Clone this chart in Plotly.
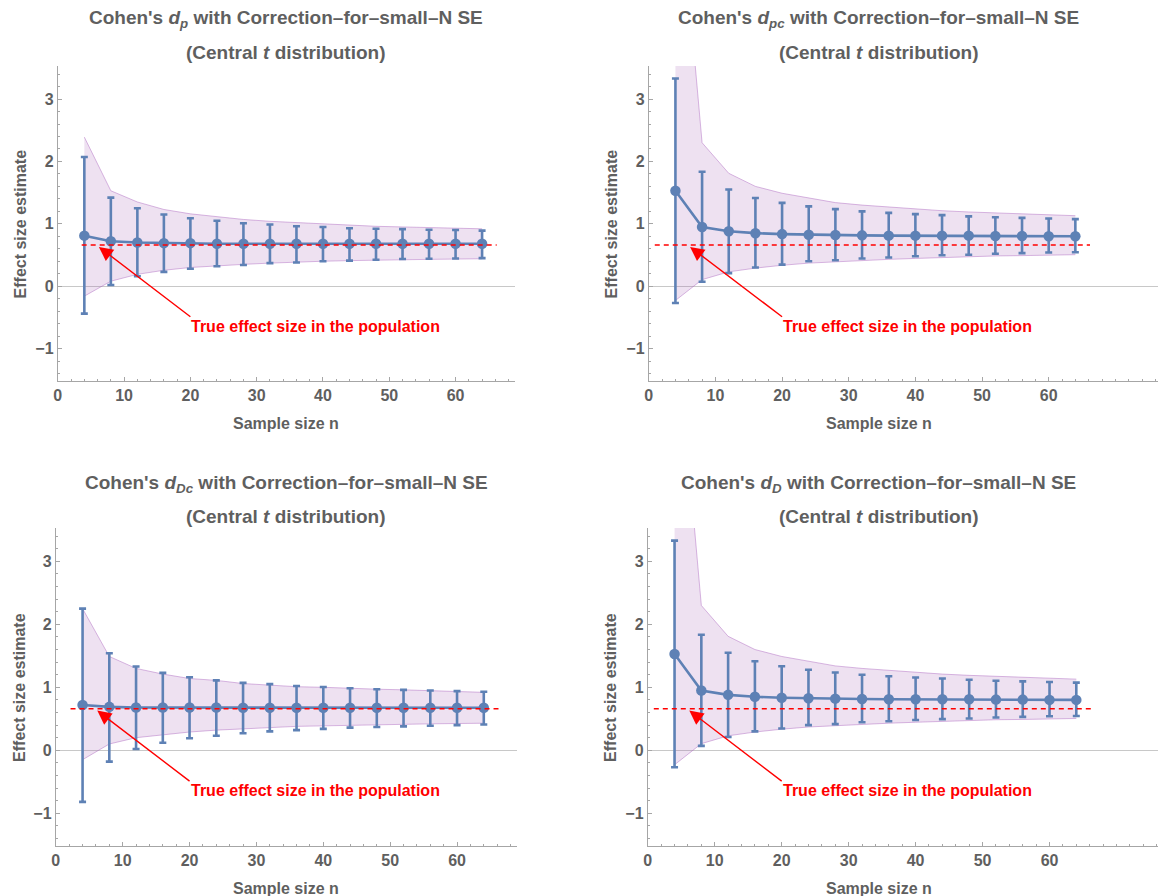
import plotly.graph_objects as go

# ---------------- data ----------------
sample_n = [4, 8, 12, 16, 20, 24, 28, 32, 36, 40, 44, 48, 52, 56, 60, 64]
true_effect = 0.66

# Cohen's d_p
dp_mean = [0.81, 0.72, 0.70, 0.69, 0.69, 0.68, 0.68, 0.68, 0.68, 0.68, 0.68, 0.68, 0.68, 0.68, 0.68, 0.68]
dp_hi = [2.07, 1.42, 1.25, 1.15, 1.09, 1.05, 1.01, 0.99, 0.96, 0.95, 0.93, 0.92, 0.915, 0.905, 0.90, 0.89]
dp_lo = [-0.44, 0.02, 0.16, 0.23, 0.28, 0.32, 0.34, 0.37, 0.38, 0.40, 0.41, 0.425, 0.435, 0.44, 0.445, 0.45]
dp_band_hi = [2.39, 1.53, 1.35, 1.23, 1.16, 1.11, 1.07, 1.04, 1.02, 1.00, 0.97, 0.96, 0.95, 0.94, 0.93, 0.92]
dp_band_lo = [-0.16, 0.08, 0.19, 0.255, 0.30, 0.33, 0.35, 0.37, 0.39, 0.40, 0.41, 0.42, 0.425, 0.43, 0.435, 0.44]

# Cohen's d_pc
dpc_mean = [1.53, 0.95, 0.88, 0.85, 0.835, 0.825, 0.82, 0.815, 0.81, 0.81, 0.81, 0.81, 0.805, 0.805, 0.80, 0.80]
dpc_hi = [3.33, 1.835, 1.55, 1.415, 1.335, 1.28, 1.235, 1.20, 1.175, 1.155, 1.14, 1.12, 1.105, 1.095, 1.085, 1.075]
dpc_lo = [-0.27, 0.07, 0.21, 0.30, 0.345, 0.40, 0.415, 0.445, 0.46, 0.48, 0.495, 0.505, 0.52, 0.53, 0.54, 0.545]
dpc_band_hi = [7.1, 2.30, 1.81, 1.60, 1.49, 1.415, 1.34, 1.30, 1.27, 1.235, 1.21, 1.19, 1.175, 1.16, 1.145, 1.13]
dpc_band_lo = [-0.23, 0.105, 0.23, 0.29, 0.335, 0.37, 0.39, 0.415, 0.43, 0.445, 0.46, 0.47, 0.485, 0.49, 0.50, 0.505]

# Cohen's d_Dc
dDc_mean = [0.72, 0.69, 0.68, 0.68, 0.68, 0.68, 0.675, 0.675, 0.675, 0.675, 0.675, 0.675, 0.675, 0.675, 0.675, 0.675]
dDc_hi = [2.25, 1.54, 1.33, 1.23, 1.16, 1.11, 1.07, 1.05, 1.02, 1.005, 0.985, 0.97, 0.96, 0.95, 0.94, 0.93]
dDc_lo = [-0.82, -0.18, 0.02, 0.12, 0.19, 0.23, 0.27, 0.30, 0.32, 0.34, 0.36, 0.37, 0.38, 0.39, 0.40, 0.41]
dDc_band_hi = [2.25, 1.49, 1.30, 1.21, 1.14, 1.11, 1.06, 1.03, 1.01, 1.00, 0.98, 0.97, 0.96, 0.95, 0.94, 0.92]
dDc_band_lo = [-0.15, 0.10, 0.20, 0.25, 0.29, 0.32, 0.345, 0.36, 0.38, 0.39, 0.40, 0.41, 0.415, 0.42, 0.425, 0.43]

# Cohen's d_D
dD_mean = [1.53, 0.95, 0.88, 0.85, 0.835, 0.825, 0.82, 0.815, 0.81, 0.81, 0.81, 0.81, 0.805, 0.805, 0.80, 0.80]
dD_hi = [3.33, 1.835, 1.55, 1.415, 1.335, 1.28, 1.235, 1.20, 1.175, 1.155, 1.14, 1.12, 1.105, 1.095, 1.085, 1.075]
dD_lo = [-0.27, 0.07, 0.21, 0.30, 0.345, 0.40, 0.415, 0.445, 0.46, 0.48, 0.495, 0.505, 0.52, 0.53, 0.54, 0.545]
dD_band_hi = [7.1, 2.30, 1.81, 1.60, 1.49, 1.415, 1.34, 1.30, 1.27, 1.235, 1.21, 1.19, 1.175, 1.16, 1.145, 1.13]
dD_band_lo = [-0.23, 0.105, 0.23, 0.29, 0.335, 0.37, 0.39, 0.415, 0.43, 0.445, 0.46, 0.47, 0.485, 0.49, 0.50, 0.505]

subscripts = ["p", "pc", "Dc", "D"]
y_tick_vals = [-1, 0, 1, 2, 3]
x_tick_vals = [0, 10, 20, 30, 40, 50, 60]
annotation_text = "True effect size in the population"

# ---------------- styling / layout ----------------
W, H = 1158, 896
FONT = "Liberation Sans, Arial, sans-serif"
GRAY = "#5f5f5f"
AXIS = "#a6a6a6"
BLUE = "#5e81b5"
RED = "#ff0000"
BAND_FILL = "rgba(160,90,180,0.18)"
BAND_EDGE = "rgba(170,100,190,0.45)"

def px_x(v):
    return v / W

def px_y(v):
    return 1 - v / H

panels = [
    dict(mean=dp_mean, hi=dp_hi, lo=dp_lo, bhi=dp_band_hi, blo=dp_band_lo, sub=subscripts[0],
         xmax=69.0, xdom=(54, 513), ydom=(66, 381), tcx=283, tys=(19, 52), xly=423, ylx=17, d0=3.6),
    dict(mean=dpc_mean, hi=dpc_hi, lo=dpc_lo, bhi=dpc_band_hi, blo=dpc_band_lo, sub=subscripts[1],
         xmax=76.4, xdom=(647, 1158), ydom=(66, 381), tcx=878, tys=(19, 52), xly=423, ylx=610, d0=0.9),
    dict(mean=dDc_mean, hi=dDc_hi, lo=dDc_lo, bhi=dDc_band_hi, blo=dDc_band_lo, sub=subscripts[2],
         xmax=69.0, xdom=(52, 515), ydom=(528, 846), tcx=283, tys=(484, 516), xly=888, ylx=15, d0=2.2),
    dict(mean=dD_mean, hi=dD_hi, lo=dD_lo, bhi=dD_band_hi, blo=dD_band_lo, sub=subscripts[3],
         xmax=76.2, xdom=(646, 1158), ydom=(528, 846), tcx=878, tys=(484, 516), xly=888, ylx=608, d0=0.9),
]

fig = go.Figure()
annotations = []
layout = {}

for i, p in enumerate(panels, start=1):
    xa = "x" if i == 1 else f"x{i}"
    ya = "y" if i == 1 else f"y{i}"
    xkey = "xaxis" if i == 1 else f"xaxis{i}"
    ykey = "yaxis" if i == 1 else f"yaxis{i}"

    # band
    fig.add_trace(go.Scatter(x=sample_n, y=p["blo"], mode="lines",
                             line=dict(color=BAND_EDGE, width=1), xaxis=xa, yaxis=ya,
                             showlegend=False, hoverinfo="skip"))
    fig.add_trace(go.Scatter(x=sample_n, y=p["bhi"], mode="lines", fill="tonexty",
                             fillcolor=BAND_FILL,
                             line=dict(color=BAND_EDGE, width=1), xaxis=xa, yaxis=ya,
                             showlegend=False, hoverinfo="skip"))
    # estimates with error bars
    err_plus = [h - m for h, m in zip(p["hi"], p["mean"])]
    err_minus = [m - l for m, l in zip(p["mean"], p["lo"])]
    fig.add_trace(go.Scatter(x=sample_n, y=p["mean"], mode="lines+markers",
                             line=dict(color=BLUE, width=2.6),
                             marker=dict(color=BLUE, size=10.5),
                             error_y=dict(type="data", array=err_plus, arrayminus=err_minus,
                                          color=BLUE, thickness=2.6, width=3.5),
                             xaxis=xa, yaxis=ya, showlegend=False))
    # true effect dashed line
    fig.add_trace(go.Scatter(x=[p["d0"], 66.2], y=[true_effect, true_effect], mode="lines",
                             line=dict(color=RED, width=1.5, dash="5px,4px"),
                             xaxis=xa, yaxis=ya, showlegend=False, hoverinfo="skip"))

    layout[xkey] = dict(
        domain=[px_x(p["xdom"][0]), px_x(p["xdom"][1])], range=[0, p["xmax"]],
        anchor=ya, showgrid=False, zeroline=False, showline=True, linecolor=AXIS, linewidth=1,
        ticks="inside", ticklen=4, tickcolor=AXIS, tickvals=x_tick_vals,
        minor=dict(ticks="inside", ticklen=2, tickcolor=AXIS, dtick=2, tick0=0, showgrid=False),
        tickfont=dict(family=FONT, size=16, color=GRAY, weight="bold"),
    )
    layout[ykey] = dict(
        domain=[px_y(p["ydom"][1]), px_y(p["ydom"][0])], range=[-1.52, 3.53],
        anchor=xa, showgrid=False, zeroline=True, zerolinecolor="#c8c8c8", zerolinewidth=1,
        showline=True, linecolor=AXIS, linewidth=1,
        ticks="inside", ticklen=4, tickcolor=AXIS, tickvals=y_tick_vals,
        minor=dict(ticks="inside", ticklen=2, tickcolor=AXIS, dtick=0.2, tick0=0, showgrid=False),
        tickfont=dict(family=FONT, size=16, color=GRAY, weight="bold"),
    )

    # titles
    annotations.append(dict(
        x=px_x(p["tcx"]), y=px_y(p["tys"][0]), xref="paper", yref="paper",
        text=f"<b>Cohen's <i>d</i><sub><i>{p['sub']}</i></sub> with Correction–for–small–N SE</b>",
        showarrow=False, xanchor="center", yanchor="middle",
        font=dict(family=FONT, size=19, color=GRAY)))
    annotations.append(dict(
        x=px_x(p["tcx"]), y=px_y(p["tys"][1]), xref="paper", yref="paper",
        text="<b>(Central <i>t</i> distribution)</b>",
        showarrow=False, xanchor="center", yanchor="middle",
        font=dict(family=FONT, size=19, color=GRAY)))
    # axis titles
    annotations.append(dict(
        x=px_x(p["tcx"]), y=px_y(p["xly"]), xref="paper", yref="paper",
        text="<b>Sample size n</b>", showarrow=False, xanchor="center", yanchor="middle",
        font=dict(family=FONT, size=16, color=GRAY)))
    annotations.append(dict(
        x=px_x(p["ylx"]), y=px_y((p["ydom"][0] + p["ydom"][1]) / 2), xref="paper", yref="paper",
        text="<b>Effect size estimate</b>", showarrow=False, textangle=-90,
        xanchor="center", yanchor="middle",
        font=dict(family=FONT, size=16, color=GRAY)))
    # label with arrow pointing at the true-effect line
    annotations.append(dict(
        x=6.2, y=true_effect - 0.03, xref=xa, yref=ya, ax=20.0, ay=-0.49, axref=xa, ayref=ya,
        text=f"<b>{annotation_text}</b>", xanchor="left", yanchor="top", borderpad=0,
        showarrow=True, arrowhead=2, arrowsize=2.0, arrowwidth=1.4, arrowcolor=RED,
        font=dict(family=FONT, size=16, color=RED)))

fig.update_layout(
    width=W, height=H, margin=dict(l=0, r=0, t=0, b=0),
    paper_bgcolor="white", plot_bgcolor="white",
    annotations=annotations, showlegend=False, **layout)

fig.write_html("out.html", config={"displayModeBar": False},
               post_script="document.body.style.margin='0';")
